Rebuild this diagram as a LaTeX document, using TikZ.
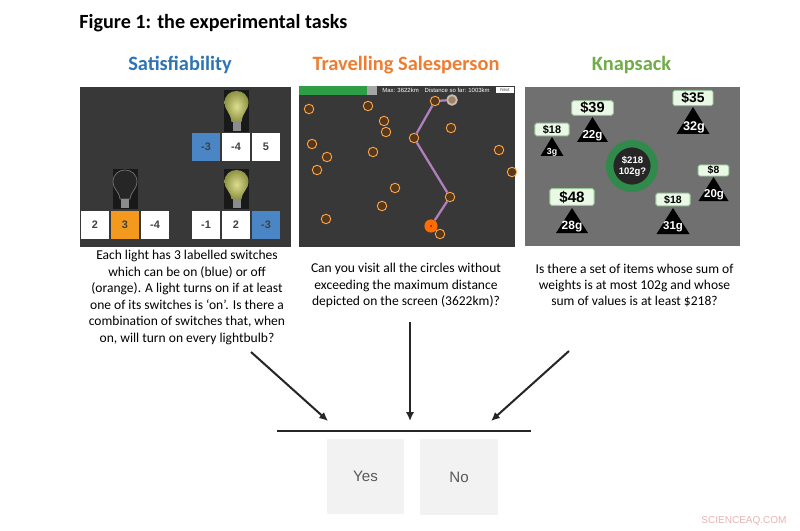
\documentclass[tikz,border=0pt]{standalone}
\usepackage{fontspec}
\setmainfont{Carlito}
\newfontfamily\arialfont{Liberation Sans}
\definecolor{panelgray}{HTML}{383838}
\definecolor{switchblue}{HTML}{4A86C5}
\definecolor{switchorange}{HTML}{F39A1E}
\definecolor{titleblue}{HTML}{2E74B5}
\definecolor{titleorange}{HTML}{ED7D31}
\definecolor{titlegreen}{HTML}{70AD47}
\definecolor{ringgreen}{HTML}{2F8A4B}
\definecolor{tagfill}{HTML}{EAF8E6}
\definecolor{routepurple}{HTML}{B080BC}
\definecolor{barolive}{HTML}{2E9E46}
\definecolor{glowlit}{HTML}{DDDD90}
\definecolor{glowedge}{HTML}{8E9444}
\tikzset{
    heading/.style={font=\fontsize{11.6}{14}\selectfont\bfseries},
    question/.style={align=center,font=\fontsize{7.7}{9.35}\selectfont},
    switchbox/.style={minimum width=15.9pt,minimum height=15.9pt,inner sep=0pt,fill=white,text=black!75,
        font=\fontsize{6.2}{7}\selectfont\arialfont\bfseries},
    city/.style={circle,draw=orange!70!white,fill=black!55!brown,minimum size=5.4pt,inner sep=0pt,line width=0.5pt},
    route/.style={routepurple,line width=1.3pt},
    tag/.style={fill=tagfill,draw=green!45!black!40,line width=0.5pt,rounded corners=1pt,inner sep=0pt,text=black,font=\arialfont\bfseries},
    flow/.style={-{Latex[length=5pt,width=4.6pt]},line width=1.15pt,black!85},
    answer/.style={fill=black!5,minimum width=44pt,minimum height=43pt,inner sep=0pt,text=black!65,
        font=\fontsize{8.6}{10}\selectfont\arialfont},
}
% bulb: centre x, top y, bottom y, glass style
\newcommand{\lightbulb}[4]{
    \fill[black!90] (#1-12.5,#2) rectangle (#1+12.5,#3);
    \path[#4] (#1-5,#3-10) .. controls (#1-6,#2+22) and (#1-12,#2+20) .. (#1-12,#2+13)
        .. controls (#1-12,#2+5) and (#1-6,#2+1) .. (#1,#2+1)
        .. controls (#1+6,#2+1) and (#1+12,#2+5) .. (#1+12,#2+13)
        .. controls (#1+12,#2+20) and (#1+6,#2+22) .. (#1+5,#3-10) -- cycle;
    \fill[black!45] (#1-4,#3-10) rectangle (#1+4,#3-1);
}
% item: x, y of tag, tag width, tag height, apex y, base y, half width, tag font, price
\newcommand{\knapitem}[9]{
    \fill[black] (#1,#5) -- (#1+#7,#6) -- (#1-#7,#6) -- cycle;
    \node[tag,minimum width=#3,minimum height=#4] at (#1,#2) {\fontsize{#8}{#8}\selectfont #9};
}
\usetikzlibrary{arrows.meta}
\begin{document}
\begin{tikzpicture}[x=0.02cm,y=-0.02cm]
    \useasboundingbox (0,0) rectangle (800,530);
    \node[anchor=west,inner sep=0pt,font=\fontsize{11.45}{13}\selectfont\bfseries] (figtitle) at (79,23) {Figure 1: the experimental tasks};

    \node[heading,text=titleblue] (sathead) at (180,65) {Satisfiability};
    \node[heading,text=titleorange] (tsphead) at (406,65) {Travelling Salesperson};
    \node[heading,text=titlegreen] (knaphead) at (631.5,65) {Knapsack};

    % satisfiability panel
    \fill[panelgray] (80,87) rectangle (291,247);
    \lightbulb{236.5}{90}{132}{inner color=glowlit,outer color=glowedge}
    \lightbulb{236.5}{169}{209}{inner color=glowlit,outer color=glowedge}
    \lightbulb{125}{169}{209}{fill=black!85,draw=black!55}
    \node[switchbox,fill=switchblue] (upa) at (206,147) {-3};
    \node[switchbox] (upb) at (236,147) {-4};
    \node[switchbox] (upc) at (266,147) {5};
    \node[switchbox] (lowa) at (95,225) {2};
    \node[switchbox,fill=switchorange] (lowb) at (125,225) {3};
    \node[switchbox] (lowc) at (155,225) {-4};
    \node[switchbox] (lowd) at (206,225) {-1};
    \node[switchbox] (lowe) at (236,225) {2};
    \node[switchbox,fill=switchblue] (lowf) at (266,225) {-3};

    % tsp panel
    \fill[panelgray] (299,86) rectangle (515,247);
    \fill[barolive] (299,86) rectangle (367,95);
    \fill[black!35] (367,86) rectangle (377,95);
    \node[text=white,font=\fontsize{3.4}{4}\selectfont\arialfont] (tspinfo) at (436,90.5) {Max: 3622km\quad Distance so far: 1003km};
    \node[fill=white,minimum width=10.5pt,minimum height=3.5pt,inner sep=0pt,text=black!70,font=\fontsize{2.6}{3}\selectfont\arialfont] (tspbtn) at (505,90) {Next};
    \foreach \name/\cx/\cy in {ca/309/109,cb/368/106,cc/384/121,cd/386/132,ce/312/144,cf/327/157,cg/317/170,ch/373/152,ci/395/188,cj/382/206,ck/326/219,cl/451/128,cm/499/150,cn/512/172,co/440/234}
        \node[city] (\name) at (\cx,\cy) {};
    \node[city] (ra) at (435,101) {};
    \node[city,fill=black!40!brown!70!white,draw=orange!30!black!30!white,line width=1pt,minimum size=5.5pt] (rb) at (452,100) {};
    \node[city] (rc) at (414,138) {};
    \node[city] (rd) at (450,197) {};
    \node[circle,fill=orange!85!red,minimum size=7.5pt,inner sep=0pt] (re) at (431,226) {};
    \draw[route] (rb) -- (ra) -- (rc) -- (rd) -- (re);
    \fill[red!70!black] (re) circle (1);

    % knapsack panel
    \fill[black!56] (525,87) rectangle (740,246);
    \knapitem{592.5}{108}{23.7pt}{8.3pt}{117}{142}{15.5}{8.3}{\$39}
    \knapitem{552}{129.5}{19.5pt}{7.2pt}{137}{156}{11.5}{6.2}{\$18}
    \knapitem{693}{98}{22.8pt}{8.7pt}{107}{134}{16.5}{7.9}{\$35}
    \knapitem{713.5}{170.5}{17.5pt}{6.3pt}{177}{201}{15}{5.9}{\$8}
    \knapitem{673}{199.5}{19.5pt}{7.2pt}{208}{234}{16.5}{6}{\$18}
    \knapitem{572}{197}{25.2pt}{9.5pt}{208}{233}{16}{8.6}{\$48}
    \foreach \name/\wx/\wy/\wsize/\wtext in {wa/592.5/136/6.6/22g,wb/552/152/5/3g,wc/694/127/7.2/32g,wd/714/195/6.5/20g,we/673/227/6.5/31g,wf/572/227/6.8/28g}
        \node[text=white,font=\fontsize{\wsize}{\wsize}\selectfont\arialfont\bfseries] (\name) at (\wx,\wy) {\wtext};
    \node[circle,draw=ringgreen,line width=4.2pt,fill=black!85,minimum size=25.4pt,inner sep=0pt] (goal) at (632,166) {};
    \node[align=center,text=white,font=\fontsize{5.4}{6.5}\selectfont\arialfont\bfseries] (goaltext) at (632.5,166.5) {\$218\\102g?};

    % questions
    \node[question] (satq) at (187,297.5) {Each light has 3 labelled switches\\which can be on (blue) or off\\(orange). A light turns on if at least\\one of its switches is `on'. Is there a\\combination of switches that, when\\on, will turn on every lightbulb?};
    \node[question] (tspq) at (406,285.5) {Can you visit all the circles without\\exceeding the maximum distance\\depicted on the screen (3622km)?};
    \node[question] (knapq) at (634.5,285.5) {Is there a set of items whose sum of\\weights is at most 102g and whose\\sum of values is at least \$218?};

    % answer
    \coordinate (fromsat) at (251,352);
    \coordinate (fromtsp) at (410,322);
    \coordinate (fromknap) at (569,351);
    \coordinate (tosat) at (328,421);
    \coordinate (totsp) at (410,421);
    \coordinate (toknap) at (491,421);
    \coordinate (barl) at (277,431);
    \coordinate (barr) at (531,431);
    \draw[flow] (fromsat) -- (tosat);
    \draw[flow] (fromtsp) -- (totsp);
    \draw[flow] (fromknap) -- (toknap);
    \draw[line width=0.8pt,black!85] (barl) -- (barr);
    \node[answer] (yes) at (365.5,476.5) {Yes};
    \node[answer] (no) at (459,477) {No};

    \node[text=red!70!black!30,font=\fontsize{5.7}{7}\selectfont\arialfont] (mark) at (744,521) {SCIENCEAQ.COM};
\end{tikzpicture}
\end{document}
